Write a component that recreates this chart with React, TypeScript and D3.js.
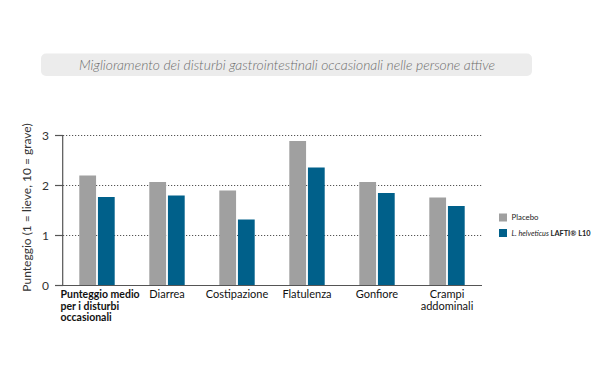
import React from "react";
import * as d3 from "d3";

const categories: string[][] = [
  ["Punteggio medio", "per i disturbi", "occasionali"],
  ["Diarrea"],
  ["Costipazione"],
  ["Flatulenza"],
  ["Gonfiore"],
  ["Crampi", "addominali"],
];
const placebo = [2.2, 2.07, 1.9, 2.89, 2.07, 1.76];
const lafti = [1.77, 1.8, 1.32, 2.36, 1.85, 1.59];
const yTicks = [0, 1, 2, 3];
const seriesNames = ["Placebo", "L. helveticus LAFTI® L10"];
const colors = ["#a0a0a0", "#00608a"];

const FONT = "Lato, 'Open Sans', sans-serif";

export default function App() {
  const W = 600, H = 377;
  const x0 = 62, x1 = 482;
  const y = d3.scaleLinear().domain([0, 3]).range([285.5, 135.5]);
  const xb = d3.scaleBand<number>().domain(d3.range(categories.length)).range([x0, x1]);
  const xi = d3.scaleBand<number>().domain([0, 1]).range([-17.7, 17.7]).paddingInner(0.1);
  const series = [placebo, lafti];

  return (
    <svg width={W} height={H} style={{ position: "absolute", left: 0, top: 0 }}>
      <rect x={0} y={0} width={W} height={H} fill="#fff" />
      <rect x={41} y={53.5} width={491} height={22.5} rx={5} fill="#ececec" />
      <text x={287} y={69.5} textAnchor="middle" fontFamily={FONT} fontStyle="italic" fontWeight={300}
        fontSize={13.5} fill="#6c6c6c" textLength={416} lengthAdjust="spacingAndGlyphs">
        Miglioramento dei disturbi gastrointestinali occasionali nelle persone attive
      </text>

      {yTicks.filter((t) => t > 0).map((t) => (
        <line key={"g" + t} x1={63} x2={483} y1={y(t)} y2={y(t)} stroke="#555" strokeWidth={1}
          strokeDasharray="1.2,1.8" />
      ))}

      {series.map((s, si) =>
        s.map((v, i) => {
          const cx = (xb(i) as number) + xb.bandwidth() / 2;
          return (
            <rect key={si + "-" + i} x={cx + (xi(si) as number)} y={y(v)} width={xi.bandwidth()}
              height={y(0) - y(v)} fill={colors[si]} />
          );
        })
      )}

      <line x1={62.7} x2={62.7} y1={y(3)} y2={y(0)} stroke="#555" strokeWidth={1.2} />
      <line x1={55} x2={482} y1={y(0)} y2={y(0)} stroke="#555" strokeWidth={1.2} />
      {yTicks.map((t) => (
        <g key={"t" + t}>
          <line x1={55} x2={63} y1={y(t)} y2={y(t)} stroke="#555" strokeWidth={1.2} />
          <text x={49} y={y(t)} dy="0.35em" textAnchor="end" fontFamily={FONT} fontSize={12} fill="#333">
            {t}
          </text>
        </g>
      ))}

      <text transform={`translate(31,${y(1.5) - 3}) rotate(-90)`} textAnchor="middle" fontFamily={FONT}
        fontSize={12} fill="#333">
        Punteggio (1 = lieve, 10 = grave)
      </text>

      {categories.map((lines, i) => {
        const cx = (xb(i) as number) + xb.bandwidth() / 2;
        const first = i === 0;
        return (
          <text key={"c" + i} x={first ? 60.5 : cx} y={298} textAnchor={first ? "start" : "middle"}
            fontFamily={FONT} fontSize={first ? 10.5 : 11} fontWeight={first ? 700 : 400} fill="#111">
            {lines.map((l, j) => (
              <tspan key={j} x={first ? 60.5 : cx} dy={j === 0 ? 0 : 11.5}>{l}</tspan>
            ))}
          </text>
        );
      })}

      {seriesNames.map((n, i) => (
        <g key={"l" + i} transform={`translate(499,${213.5 + i * 15.5})`}>
          <rect x={0} y={0} width={8} height={8} fill={colors[i]} />
          <text x={12.5} y={4} dy="0.35em" fontFamily={FONT} fontSize={8} fill="#222"
            textLength={i === 0 ? 27 : 79} lengthAdjust="spacingAndGlyphs">
            {i === 0 ? n : (
              <>
                <tspan fontStyle="italic">L. helveticus </tspan>
                <tspan fontWeight={700}>LAFTI® L10</tspan>
              </>
            )}
          </text>
        </g>
      ))}
    </svg>
  );
}
